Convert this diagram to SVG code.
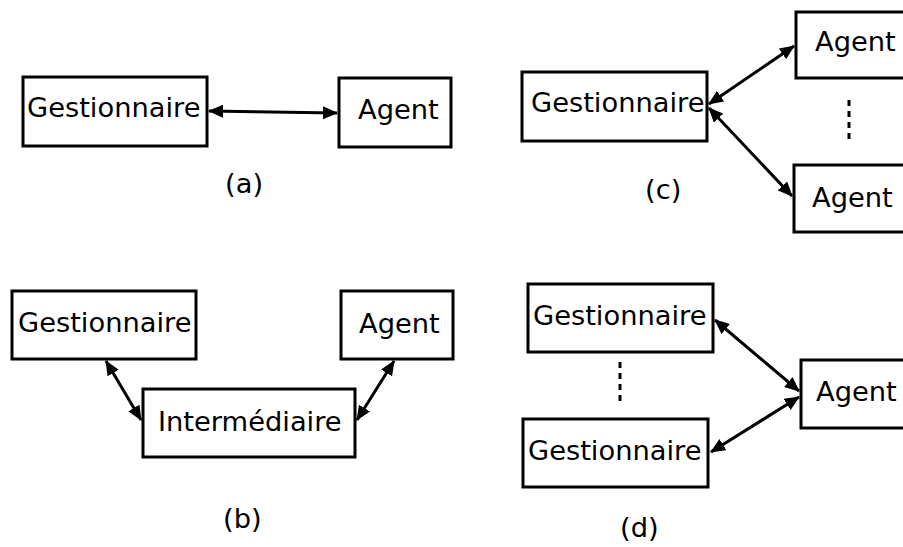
<svg xmlns="http://www.w3.org/2000/svg" width="903" height="547" viewBox="0 0 903 547">
<style>
.box{fill:#fff;stroke:#000;stroke-width:3}
.t{font-family:"DejaVu Sans",sans-serif;font-size:27.3px;fill:#000}
.c{stroke:#000;stroke-width:3;fill:none;marker-start:url(#ah);marker-end:url(#ah)}
.dot{stroke:#000;stroke-width:3;stroke-dasharray:6,5;fill:none}
</style>
<defs>
<marker id="ah" viewBox="0 0 15 13" refX="14" refY="6.5" markerWidth="15" markerHeight="13" markerUnits="userSpaceOnUse" orient="auto-start-reverse">
<path d="M0,0 L15,6.5 L0,13 Z" fill="#000"/>
</marker>
</defs>
<rect width="903" height="547" fill="#fff"/>
<g id="connectors">
<line class="c" x1="209" y1="111" x2="337" y2="113"/>
<line class="c" x1="106" y1="361" x2="141" y2="420"/>
<line class="c" x1="394" y1="361" x2="357" y2="420"/>
<line class="c" x1="709" y1="104" x2="794" y2="46"/>
<line class="c" x1="709" y1="108" x2="792" y2="196"/>
<line class="c" x1="715" y1="320" x2="799" y2="391"/>
<line class="c" x1="711" y1="452" x2="799" y2="397"/>
<line class="dot" x1="849" y1="100" x2="849" y2="142"/>
<line class="dot" x1="620" y1="362" x2="620" y2="404"/>
</g>
<g id="a-gest"><rect class="box" x="23" y="77" width="184" height="69"/><text class="t" x="27" y="117">Gestionnaire</text></g>
<g id="a-agent"><rect class="box" x="339" y="78" width="112" height="69"/><text class="t" x="358" y="119">Agent</text></g>
<text class="t" x="225" y="193">(a)</text>
<g id="b-gest"><rect class="box" x="12" y="291" width="184" height="68"/><text class="t" x="18" y="332">Gestionnaire</text></g>
<g id="b-agent"><rect class="box" x="341" y="291" width="112" height="68"/><text class="t" x="359" y="333">Agent</text></g>
<g id="b-inter"><rect class="box" x="143" y="389" width="212" height="68"/><text class="t" x="158" y="431">Intermédiaire</text></g>
<text class="t" x="223" y="528">(b)</text>
<g id="c-gest"><rect class="box" x="522" y="72" width="185" height="69"/><text class="t" x="531" y="112">Gestionnaire</text></g>
<g id="c-agent1"><rect class="box" x="796" y="12" width="120" height="66"/><text class="t" x="815" y="51">Agent</text></g>
<g id="c-agent2"><rect class="box" x="794" y="165" width="120" height="67"/><text class="t" x="812" y="207">Agent</text></g>
<text class="t" x="645" y="199">(c)</text>
<g id="d-gest1"><rect class="box" x="528" y="284" width="185" height="68"/><text class="t" x="533" y="325">Gestionnaire</text></g>
<g id="d-gest2"><rect class="box" x="523" y="419" width="185" height="68"/><text class="t" x="528" y="460">Gestionnaire</text></g>
<g id="d-agent"><rect class="box" x="801" y="360" width="120" height="68"/><text class="t" x="816" y="401">Agent</text></g>
<text class="t" x="620" y="537">(d)</text>
</svg>
